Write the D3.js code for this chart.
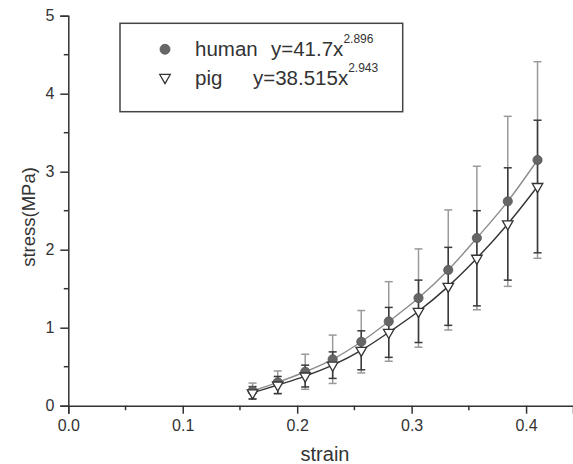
<!DOCTYPE html>
<html>
<head>
<meta charset="utf-8">
<script src="https://cdn.jsdelivr.net/npm/d3@7"></script>
<style>
  body { margin: 0; background: #fff; }
  text { font-family: "Liberation Sans", Arial, sans-serif; fill: #333; }
</style>
</head>
<body>
<div id="chart"></div>
<script>
// data
var strain   = [0.161, 0.183, 0.207, 0.231, 0.256, 0.280, 0.306, 0.332, 0.357, 0.384, 0.410];
var human    = [0.19, 0.30, 0.435, 0.595, 0.82, 1.08, 1.38, 1.74, 2.15, 2.62, 3.15];
var humanErr = [0.10, 0.145, 0.225, 0.31, 0.40, 0.51, 0.63, 0.77, 0.92, 1.09, 1.26];
var pig      = [0.165, 0.265, 0.38, 0.52, 0.71, 0.94, 1.21, 1.53, 1.89, 2.33, 2.81];
var pigErr   = [0.08, 0.11, 0.14, 0.17, 0.25, 0.32, 0.40, 0.50, 0.61, 0.72, 0.85];
var xTicks = [0, 0.1, 0.2, 0.3, 0.4];
var yTicks = [0, 1, 2, 3, 4, 5];
var xMinor = [0.05, 0.15, 0.25, 0.35];
var yMinor = [0.5, 1.5, 2.5, 3.5, 4.5];

var width = 573, height = 464;

var svg = d3.select("#chart")
  .append("svg")
    .attr("width", width)
    .attr("height", height);

// scales
var x = d3.scaleLinear()
  .domain([0, 0.441])
  .range([68.3, 573]);
var y = d3.scaleLinear()
  .domain([0, 5])
  .range([405.7, 15.7]);

// X axis
var xAxis = svg.append("g")
  .attr("transform", "translate(0," + y(0) + ")")
  .call(d3.axisBottom(x).tickValues(xTicks).tickFormat(d3.format(".1f")).tickSizeOuter(0).tickSize(8).tickPadding(6));
xAxis.append("g").selectAll("line")
  .data(xMinor)
  .enter()
  .append("line")
  .attr("x1", d => x(d)).attr("x2", d => x(d))
  .attr("y1", 0).attr("y2", 4.5);

// Y axis
var yAxis = svg.append("g")
  .attr("transform", "translate(" + x(0) + ",0)")
  .call(d3.axisLeft(y).tickValues(yTicks).tickFormat(d3.format("d")).tickSizeOuter(0).tickSize(8).tickPadding(6));
yAxis.append("g").selectAll("line")
  .data(yMinor)
  .enter()
  .append("line")
  .attr("y1", d => y(d)).attr("y2", d => y(d))
  .attr("x1", 0).attr("x2", -4.5);

svg.selectAll(".domain, .tick line, g line")
  .attr("stroke", "#333")
  .attr("stroke-width", 1.5);
svg.selectAll(".tick text")
  .attr("font-size", "16px")
  .attr("fill", "#333");

// axis labels
svg.append("text")
  .attr("x", 325)
  .attr("y", 461)
  .style("text-anchor", "middle")
  .attr("font-size", "20px")
  .text("strain");
svg.append("text")
  .attr("transform", "rotate(-90)")
  .attr("x", -217)
  .attr("y", 35)
  .style("text-anchor", "middle")
  .attr("font-size", "18.5px")
  .text("stress(MPa)");

var rows = strain.map((s, i) => ({s: s, h: human[i], he: humanErr[i], p: pig[i], pe: pigErr[i]}));

// error bars: one group per series
function errorBars(key, errKey, color) {
  var g = svg.append("g").attr("stroke", color).attr("stroke-width", 1.5);
  g.selectAll("line.v")
    .data(rows).enter().append("line")
    .attr("x1", d => x(d.s)).attr("x2", d => x(d.s))
    .attr("y1", d => y(d[key] - d[errKey])).attr("y2", d => y(d[key] + d[errKey]));
  [1, -1].forEach(sign => {
    g.selectAll("line.c" + sign)
      .data(rows).enter().append("line")
      .attr("x1", d => x(d.s) - 4).attr("x2", d => x(d.s) + 4)
      .attr("y1", d => y(d[key] + sign * d[errKey])).attr("y2", d => y(d[key] + sign * d[errKey]));
  });
}
errorBars("h", "he", "#9a9a9a");
errorBars("p", "pe", "#3a3a3a");

// smooth lines through the points
var humanLine = d3.line().x(d => x(d.s)).y(d => y(d.h)).curve(d3.curveMonotoneX);
var pigLine = d3.line().x(d => x(d.s)).y(d => y(d.p)).curve(d3.curveMonotoneX);
svg.append("path").datum(rows)
  .attr("d", humanLine).attr("fill", "none").attr("stroke", "#8c8c8c").attr("stroke-width", 1.4);
svg.append("path").datum(rows)
  .attr("d", pigLine).attr("fill", "none").attr("stroke", "#333").attr("stroke-width", 1.4);

// markers
var tri = d3.symbol().type(d3.symbolTriangle).size(48);
svg.append("g").selectAll("circle")
  .data(rows).enter().append("circle")
  .attr("cx", d => x(d.s)).attr("cy", d => y(d.h))
  .attr("r", 4.6)
  .attr("fill", "#666").attr("stroke", "#555").attr("stroke-width", 0.8);
svg.append("g").selectAll("path")
  .data(rows).enter().append("path")
  .attr("d", tri)
  .attr("transform", d => "translate(" + x(d.s) + "," + y(d.p) + ") rotate(180)")
  .attr("fill", "#fff").attr("stroke", "#333").attr("stroke-width", 1.3);

// legend
var legend = svg.append("g");
legend.append("rect")
  .attr("x", 120).attr("y", 23.3)
  .attr("width", 282.7).attr("height", 88.4)
  .attr("fill", "#fff").attr("stroke", "#444").attr("stroke-width", 1.5);
legend.append("circle")
  .attr("cx", 165).attr("cy", 49.3).attr("r", 5)
  .attr("fill", "#666").attr("stroke", "#555").attr("stroke-width", 0.8);
legend.append("path")
  .attr("d", tri)
  .attr("transform", "translate(165,77.5) rotate(180)")
  .attr("fill", "#fff").attr("stroke", "#333").attr("stroke-width", 1.3);

legend.append("text").attr("x", 195).attr("y", 56).attr("font-size", "20.5px").text("human");
var eq1 = legend.append("text").attr("x", 271).attr("y", 56).attr("font-size", "20.5px");
eq1.append("tspan").text("y=41.7x");
eq1.append("tspan").attr("font-size", "12px").attr("dy", -13).text("2.896");

legend.append("text").attr("x", 195).attr("y", 84.5).attr("font-size", "20.5px").text("pig");
var eq2 = legend.append("text").attr("x", 253).attr("y", 84.5).attr("font-size", "20.5px");
eq2.append("tspan").text("y=38.515x");
eq2.append("tspan").attr("font-size", "12px").attr("dy", -13).text("2.943");
</script>
</body>
</html>
